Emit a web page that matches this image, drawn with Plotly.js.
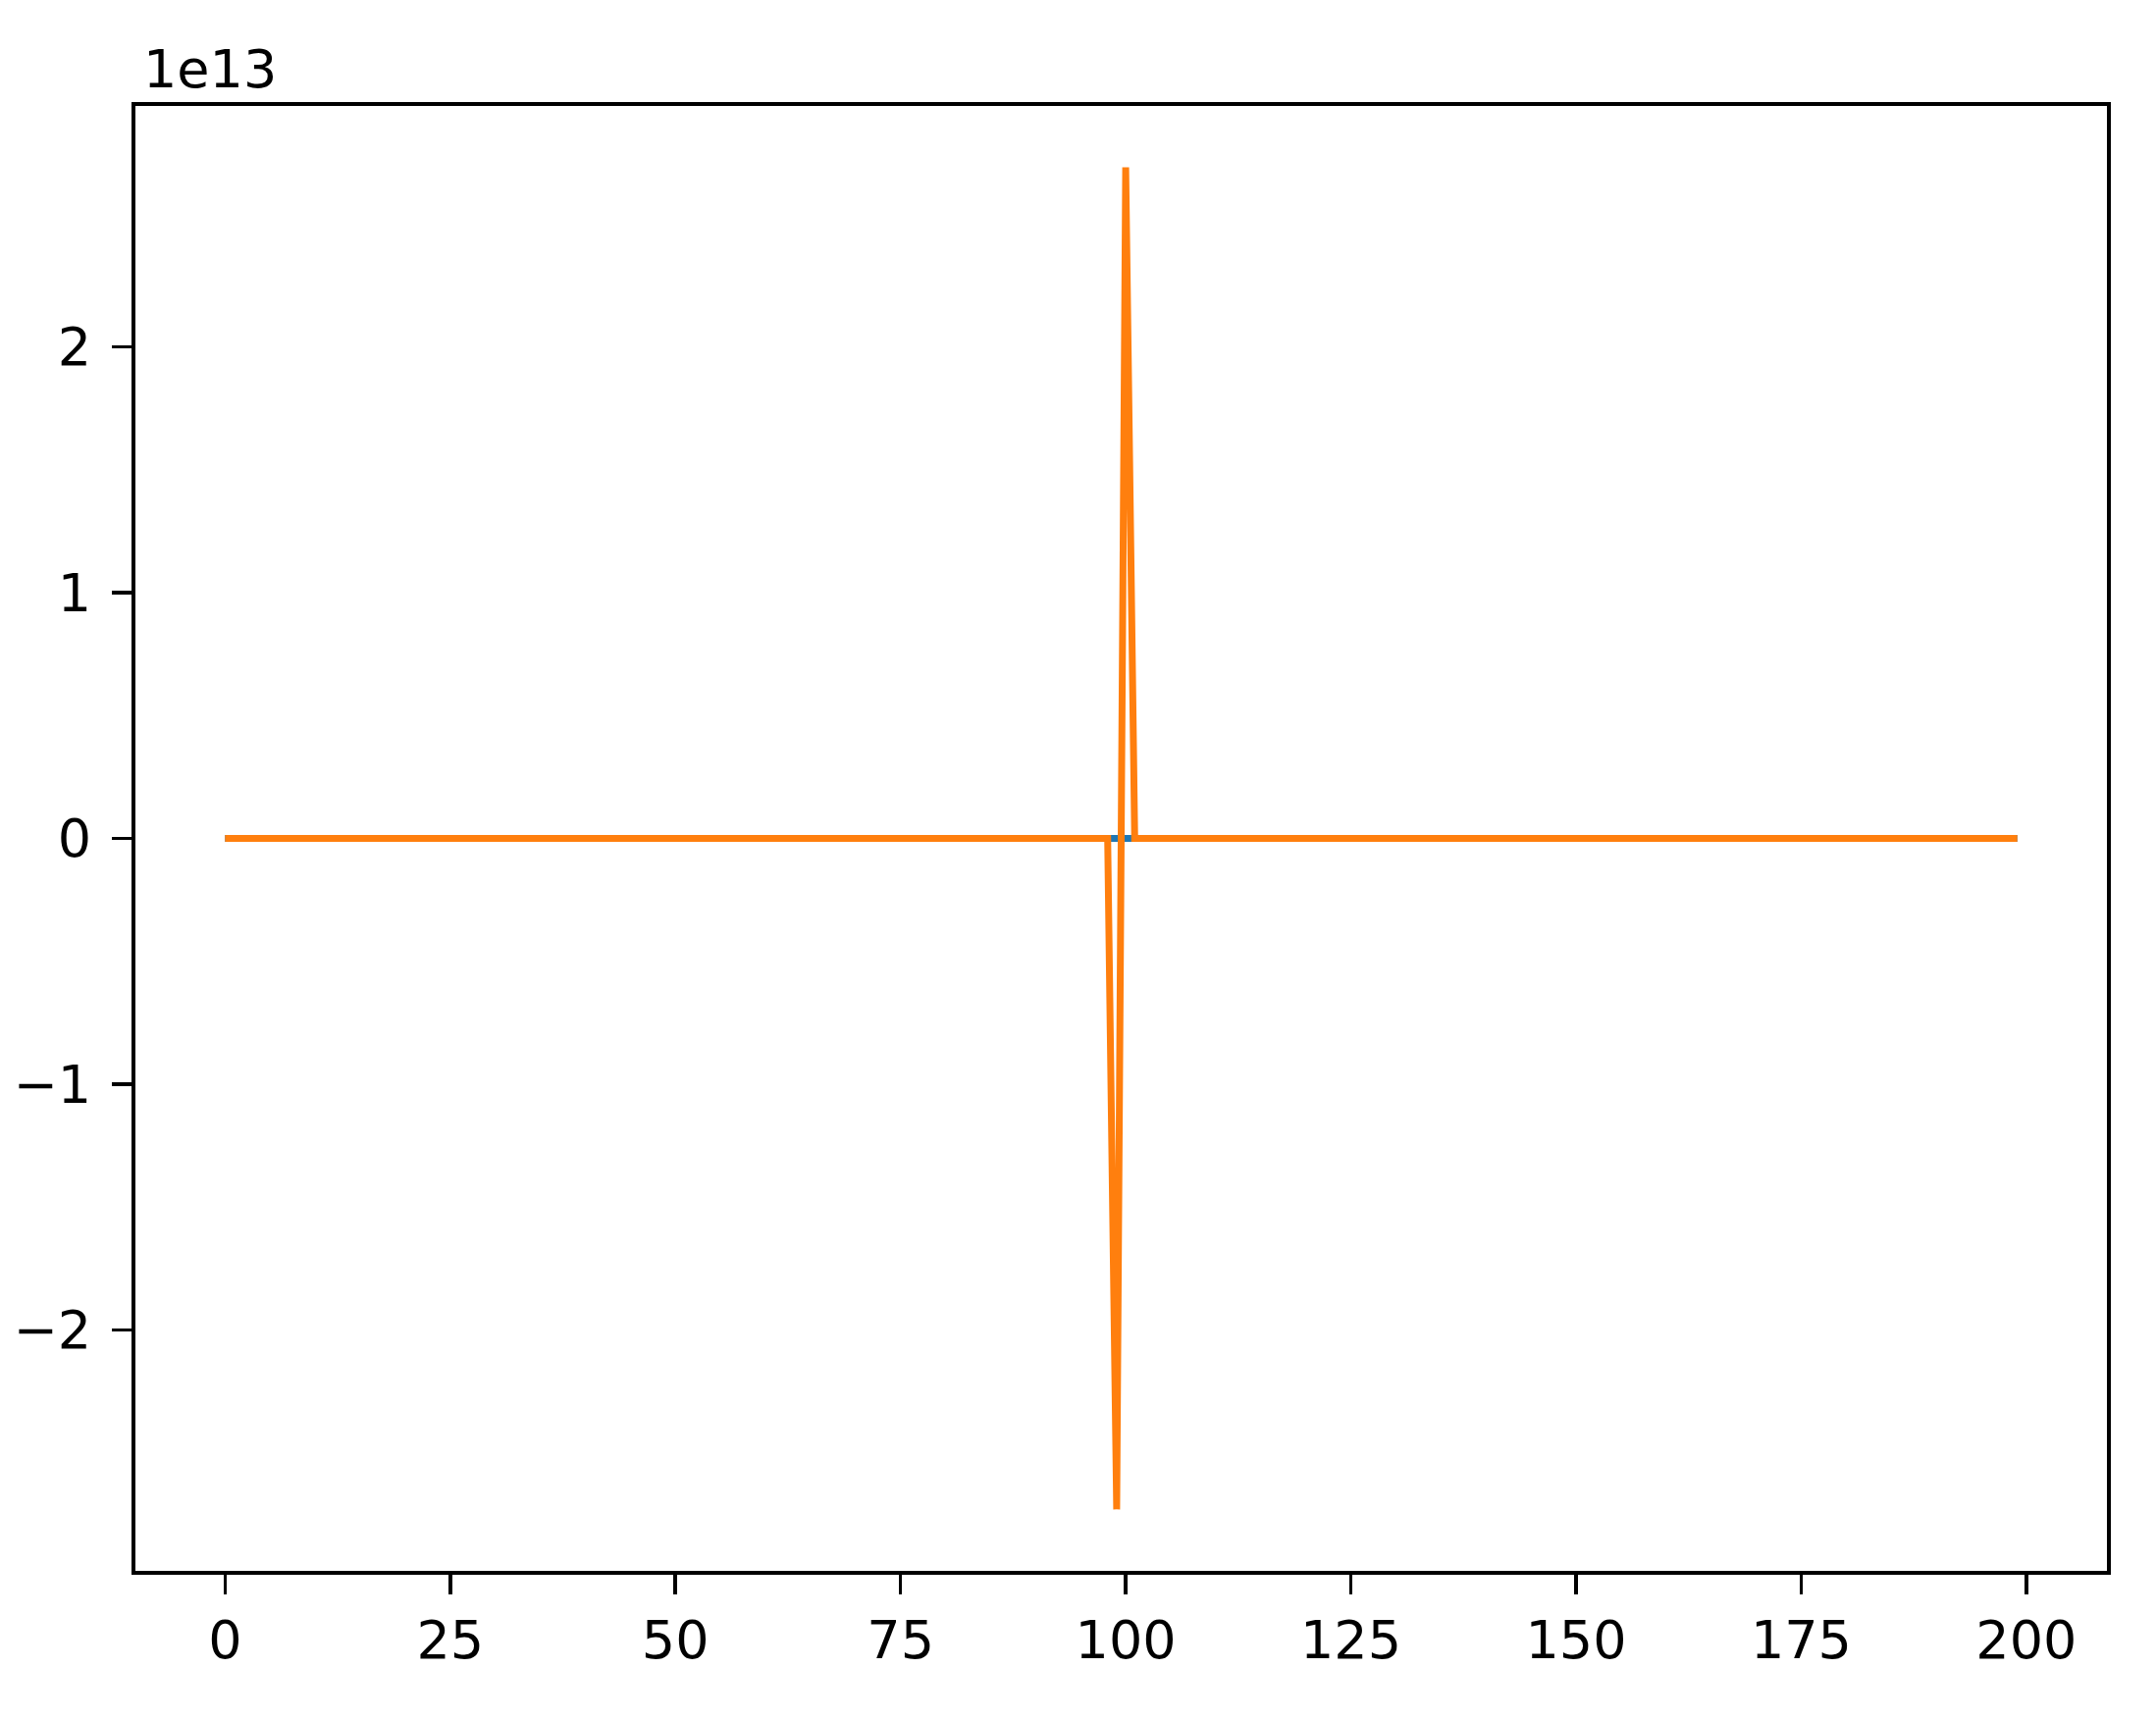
<!DOCTYPE html>
<html>
<head>
<meta charset="utf-8">
<script src="https://cdn.plot.ly/plotly-3.0.1.min.js"></script>
<style>
  html, body { margin: 0; padding: 0; background: #fff; }
  #chart { width: 2197px; height: 1753px; }
</style>
</head>
<body>
<div id="chart"></div>
<script>
// Values (y in units of 1e13)
const blueX = [0, 199];
const blueY = [0, 0];
const orangeX = [0, 98, 99, 100, 101, 199];
const orangeY = [0, 0, -2.73e13, 2.73e13, 0, 0];

const xTicks = [0, 25, 50, 75, 100, 125, 150, 175, 200];
const yTickVals = [-2e13, -1e13, 0, 1e13, 2e13];
const yTickText = ['\u22122', '\u22121', '0', '1', '2'];
const offsetLabel = '1e13';

const FONT = { family: 'DejaVu Sans', size: 54, color: '#000' };

const traces = [
    {
        x: blueX,
        y: blueY,
        mode: 'lines',
        line: { color: '#1f77b4', width: 7 },
        showlegend: false,
        hoverinfo: 'none'
    },
    {
        x: orangeX,
        y: orangeY,
        mode: 'lines',
        line: { color: '#ff7f0e', width: 7 },
        showlegend: false,
        hoverinfo: 'none'
    }
];

const axisCommon = {
    showgrid: false,
    zeroline: false,
    showline: true,
    linecolor: '#000',
    linewidth: 4,
    mirror: true,
    ticks: 'outside',
    ticklen: 20,
    tickwidth: 3.5,
    tickcolor: '#000',
    tickfont: FONT
};

const layout = {
    width: 2197,
    height: 1753,
    margin: { l: 138, r: 50, t: 108, b: 152 },
    paper_bgcolor: '#fff',
    plot_bgcolor: '#fff',
    font: FONT,
    xaxis: Object.assign({}, axisCommon, {
        range: [-9.95, 208.95],
        tickvals: xTicks,
        ticklabelstandoff: 0
    }),
    yaxis: Object.assign({}, axisCommon, {
        range: [-2.98e13, 2.98e13],
        tickvals: yTickVals,
        ticktext: yTickText,
        ticklabelstandoff: 10
    }),
    annotations: [{
        text: offsetLabel,
        xref: 'paper',
        yref: 'paper',
        x: 0.003,
        y: 1.025,
        xanchor: 'left',
        yanchor: 'middle',
        showarrow: false,
        font: FONT
    }]
};

Plotly.newPlot('chart', traces, layout, { staticPlot: true, displayModeBar: false });
</script>
</body>
</html>
